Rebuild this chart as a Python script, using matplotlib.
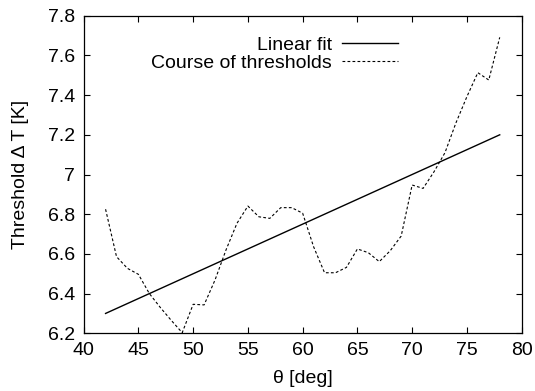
import matplotlib
matplotlib.use("Agg")
import matplotlib.pyplot as plt

plt.rcParams['font.family'] = ['Liberation Sans', 'DejaVu Sans']

# course of thresholds
theta = [42, 43, 44, 45, 46, 47, 48, 49, 50, 51, 52, 53, 54, 55, 56, 57, 58, 59, 60,
         61, 62, 63, 64, 65, 66, 67, 68, 69, 70, 71, 72, 73, 74, 75, 76, 77, 78]
threshold = [6.825, 6.586, 6.527, 6.497, 6.40, 6.33, 6.265, 6.203, 6.346, 6.343, 6.469,
             6.62, 6.754, 6.841, 6.787, 6.779, 6.833, 6.833, 6.805,
             6.636, 6.505, 6.505, 6.532, 6.625, 6.606, 6.561, 6.616, 6.69,
             6.947, 6.930, 7.014, 7.11, 7.26, 7.392, 7.513, 7.476, 7.691]

# linear fit end points
fit_x = [42, 78]
fit_y = [6.30, 7.20]

xticks = [40, 45, 50, 55, 60, 65, 70, 75, 80]
yticks = [6.2, 6.4, 6.6, 6.8, 7.0, 7.2, 7.4, 7.6, 7.8]
ytick_labels = ['6.2', '6.4', '6.6', '6.8', '7', '7.2', '7.4', '7.6', '7.8']

fig = plt.figure(figsize=(5.35, 3.91), dpi=100)
ax = fig.add_axes([0.1564, 0.1476, 0.8186, 0.8122])

ax.plot(fit_x, fit_y, color='black', lw=1.0, label='Linear fit')
ax.plot(theta, threshold, color='black', lw=0.8, linestyle=(0, (2.5, 2)),
        label='Course of thresholds')

ax.set_xlim(40, 80)
ax.set_ylim(6.2, 7.8)
ax.set_xticks(xticks)
ax.set_yticks(yticks)
ax.set_yticklabels(ytick_labels)
ax.tick_params(direction='in', length=4, width=0.8, top=True, right=True,
               labelsize=14, pad=6)
for s in ax.spines.values():
    s.set_linewidth(0.9)

ax.set_xlabel('θ [deg]', fontsize=14, labelpad=8)
ax.set_ylabel('Threshold Δ T [K]', fontsize=14, labelpad=14)

ax.legend(loc='upper right', bbox_to_anchor=(0.7176, 0.934), frameon=False,
          markerfirst=False, fontsize=14, borderpad=0, borderaxespad=0,
          handlelength=2.9, handletextpad=0.5, labelspacing=0.0)

fig.savefig('out.png', dpi=100)
